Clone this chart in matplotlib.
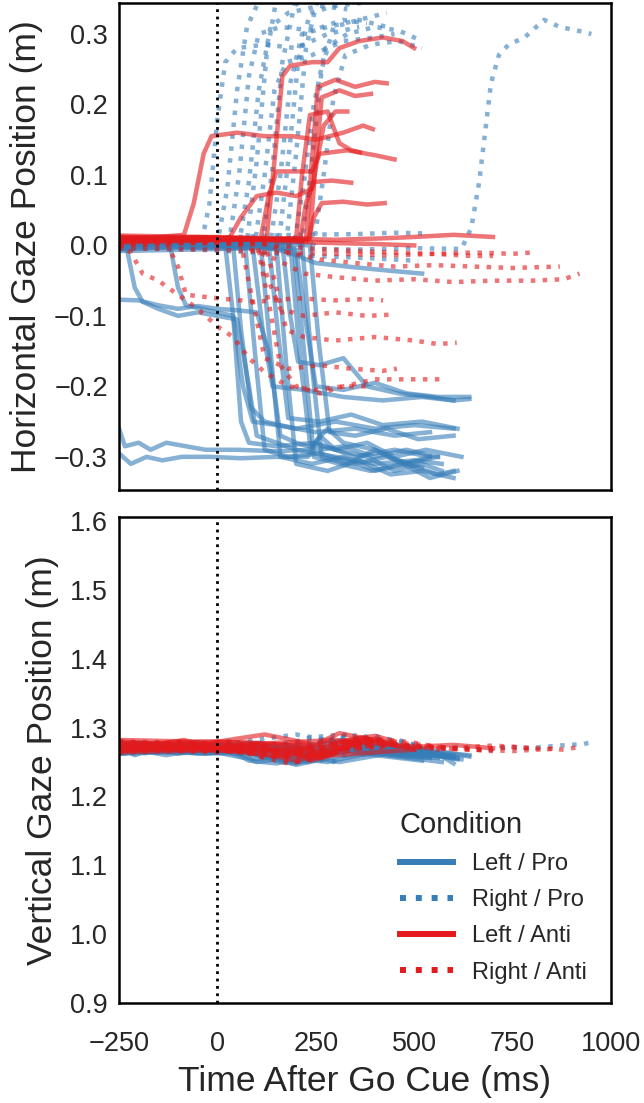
import matplotlib
matplotlib.use("Agg")
import matplotlib.pyplot as plt
from matplotlib.lines import Line2D

plt.rcParams['font.family'] = ['Liberation Sans', 'DejaVu Sans']
plt.rcParams['text.color'] = '.15'
plt.rcParams['axes.labelcolor'] = '.15'
plt.rcParams['xtick.color'] = '.15'
plt.rcParams['ytick.color'] = '.15'

# one list per trace: time after go cue (ms), horizontal gaze (m), vertical gaze (m)

# Left / Pro
lp_t = [
    [-250, -200, -150, -100, -50, 0, 50, 100, 130, 160, 200, 260, 320, 400, 480, 560],
    [-250, -230, -210, -190, -150, -100, -50, 0, 50, 80, 100, 150, 200, 300, 400, 500, 570],
    [-250, -120, -100, -80, -40, 0, 40, 65, 90, 150, 250, 350, 450, 540],
    [-250, -235, -200, -170, -130, -80, -30, 50, 150, 230, 280, 320, 400, 480, 560],
    [-250, -220, -180, -140, -90, -20, 60, 150, 230, 260, 300, 380, 450, 520, 570],
    [-250, -180, -100, -30, 20, 40, 60, 80, 150, 250, 350, 450, 540],
    [-250, -150, -60, 40, 60, 85, 120, 200, 300, 400, 500, 600],
    [-250, -150, -50, 70, 95, 120, 180, 260, 350, 430, 520],
    [-250, -120, 0, 90, 115, 140, 220, 320, 420, 520, 600, 640],
    [-250, -100, 110, 135, 160, 240, 320, 400, 480, 560, 600],
    [-250, -80, 130, 155, 180, 260, 340, 420, 520, 610],
    [-250, -50, 150, 175, 200, 280, 360, 440, 520, 600],
    [-250, 0, 165, 185, 205, 260, 320, 380, 460, 540, 600],
    [-250, 50, 185, 210, 235, 300, 380, 450, 530, 620],
    [-250, 100, 200, 225, 250, 320, 400, 480, 560, 640],
    [-250, 100, 215, 240, 265, 330, 400, 470, 540],
    [-250, 120, 235, 258, 285, 350, 430, 510, 600],
    [-250, -50, 100, 180, 250, 330, 420, 520],
    [-250, 60, 195, 220, 245, 310, 390, 470, 540, 610],
]
lp_h = [
    [-0.077, -0.078, -0.085, -0.09, -0.086, -0.09, -0.092, -0.095, -0.15, -0.27, -0.28, -0.29, -0.285, -0.3, -0.29, -0.3],
    [0.002, -0.005, -0.06, -0.08, -0.09, -0.1, -0.095, -0.1, -0.105, -0.2, -0.27, -0.28, -0.29, -0.3, -0.31, -0.305, -0.31],
    [0.004, 0.0, -0.06, -0.085, -0.09, -0.095, -0.1, -0.2, -0.25, -0.255, -0.265, -0.26, -0.27, -0.265],
    [-0.26, -0.285, -0.28, -0.29, -0.28, -0.285, -0.29, -0.29, -0.292, -0.29, -0.26, -0.28, -0.29, -0.31, -0.3],
    [-0.295, -0.31, -0.3, -0.305, -0.3, -0.3, -0.302, -0.3, -0.3, -0.27, -0.29, -0.3, -0.32, -0.31, -0.32],
    [0.004, 0.0, 0.006, 0.002, 0.0, -0.1, -0.25, -0.28, -0.285, -0.28, -0.3, -0.29, -0.3],
    [-0.004, 0.002, -0.002, 0.0, -0.12, -0.23, -0.25, -0.26, -0.25, -0.26, -0.255, -0.26],
    [0.006, 0.003, 0.008, 0.004, -0.15, -0.29, -0.3, -0.295, -0.31, -0.3, -0.315],
    [-0.006, -0.002, -0.004, -0.003, -0.12, -0.2, -0.205, -0.215, -0.22, -0.215, -0.22, -0.218],
    [0.0, 0.004, 0.002, -0.15, -0.3, -0.31, -0.3, -0.32, -0.31, -0.325, -0.32],
    [0.008, 0.005, 0.004, -0.13, -0.245, -0.25, -0.24, -0.255, -0.25, -0.26],
    [-0.002, 0.0, -0.002, -0.17, -0.31, -0.32, -0.305, -0.325, -0.32, -0.33],
    [0.002, 0.006, 0.002, -0.1, -0.165, -0.17, -0.16, -0.2, -0.21, -0.215, -0.22],
    [0.005, 0.002, 0.003, -0.16, -0.28, -0.29, -0.28, -0.3, -0.29, -0.3],
    [-0.008, -0.004, -0.006, -0.11, -0.2, -0.205, -0.195, -0.21, -0.215, -0.215],
    [0.003, 0.006, 0.004, -0.17, -0.3, -0.31, -0.29, -0.31, -0.3],
    [0.0, 0.003, 0.0, -0.14, -0.265, -0.27, -0.26, -0.275, -0.27],
    [0.004, 0.002, 0.0, -0.01, -0.025, -0.03, -0.035, -0.04],
    [-0.004, -0.002, -0.004, -0.15, -0.3, -0.31, -0.32, -0.31, -0.33, -0.32],
]
lp_v = [
    [1.274, 1.278, 1.272, 1.276, 1.279, 1.273, 1.27, 1.262, 1.255, 1.25, 1.248, 1.258, 1.27, 1.265, 1.262, 1.258],
    [1.262, 1.266, 1.26, 1.264, 1.268, 1.262, 1.266, 1.264, 1.258, 1.255, 1.25, 1.254, 1.246, 1.258, 1.262, 1.255, 1.25],
    [1.276, 1.272, 1.278, 1.274, 1.27, 1.276, 1.268, 1.26, 1.254, 1.258, 1.266, 1.272, 1.262, 1.258],
    [1.266, 1.262, 1.268, 1.264, 1.26, 1.265, 1.262, 1.266, 1.256, 1.25, 1.262, 1.27, 1.264, 1.258, 1.256],
    [1.27, 1.274, 1.268, 1.272, 1.276, 1.27, 1.273, 1.268, 1.262, 1.258, 1.266, 1.274, 1.27, 1.265, 1.262],
    [1.268, 1.264, 1.27, 1.266, 1.27, 1.262, 1.258, 1.252, 1.248, 1.26, 1.268, 1.262, 1.256],
    [1.272, 1.276, 1.27, 1.274, 1.268, 1.262, 1.258, 1.25, 1.262, 1.272, 1.266, 1.26],
    [1.264, 1.268, 1.262, 1.266, 1.26, 1.256, 1.26, 1.27, 1.264, 1.258, 1.252],
    [1.27, 1.274, 1.266, 1.272, 1.266, 1.262, 1.256, 1.266, 1.276, 1.27, 1.262, 1.258],
    [1.276, 1.272, 1.278, 1.272, 1.266, 1.258, 1.268, 1.262, 1.27, 1.262, 1.248],
    [1.268, 1.272, 1.266, 1.262, 1.256, 1.264, 1.272, 1.268, 1.262, 1.256],
    [1.262, 1.266, 1.27, 1.262, 1.255, 1.25, 1.26, 1.268, 1.264, 1.258],
    [1.274, 1.27, 1.266, 1.26, 1.268, 1.276, 1.282, 1.272, 1.266, 1.262, 1.256],
    [1.266, 1.27, 1.264, 1.258, 1.262, 1.272, 1.266, 1.26, 1.262, 1.254],
    [1.27, 1.266, 1.272, 1.264, 1.258, 1.266, 1.276, 1.27, 1.264, 1.26],
    [1.278, 1.274, 1.27, 1.262, 1.258, 1.27, 1.278, 1.272, 1.266],
    [1.264, 1.268, 1.262, 1.258, 1.266, 1.274, 1.268, 1.262, 1.258],
    [1.272, 1.276, 1.27, 1.274, 1.268, 1.278, 1.272, 1.268],
    [1.266, 1.262, 1.268, 1.262, 1.256, 1.25, 1.258, 1.266, 1.26, 1.254],
]

# Right / Pro
rp_t = [
    [-250, -120, -40, -20, 0, 20, 50, 120, 200, 280, 360],
    [-250, -100, 0, 25, 50, 75, 100, 160, 240],
    [-250, -80, 30, 55, 80, 105, 160, 240, 320, 380],
    [-250, -50, 55, 80, 105, 135, 180, 260, 330],
    [-250, 0, 75, 100, 125, 150, 190],
    [-250, 0, 95, 120, 145, 175, 240, 320, 400, 450],
    [-250, 50, 115, 140, 165, 195, 250, 320],
    [-250, 50, 135, 160, 185, 215, 280, 360, 430],
    [-250, 80, 155, 180, 205, 235, 300, 380],
    [-250, 100, 175, 200, 225, 255, 310],
    [-250, 100, 195, 220, 245, 275, 330, 400, 460, 520],
    [-250, 120, 215, 240, 265, 295, 360, 430],
    [-250, 150, 245, 270, 295, 325, 390, 460, 520],
    [-250, -100, 50, 200, 350, 500, 620, 645, 665, 680, 695, 715, 740, 780, 830, 870, 930, 950],
    [-250, -100, 50, 200, 350, 450, 520],
    [-250, -50, 100, 250, 380, 450, 510],
]
rp_h = [
    [0.004, 0.006, 0.005, 0.06, 0.18, 0.26, 0.28, 0.285, 0.28, 0.3, 0.31],
    [-0.002, 0.002, 0.004, 0.08, 0.22, 0.31, 0.34, 0.36, 0.37],
    [0.008, 0.004, 0.006, 0.1, 0.24, 0.3, 0.31, 0.305, 0.32, 0.315],
    [0.0, 0.004, 0.002, 0.09, 0.22, 0.31, 0.33, 0.34, 0.335],
    [0.006, 0.008, 0.006, 0.12, 0.27, 0.35, 0.38],
    [-0.004, 0.0, 0.002, 0.1, 0.22, 0.26, 0.27, 0.29, 0.295, 0.3],
    [0.002, 0.004, 0.004, 0.11, 0.26, 0.34, 0.36, 0.37],
    [0.01, 0.008, 0.006, 0.1, 0.23, 0.3, 0.31, 0.32, 0.31],
    [-0.002, 0.002, 0.0, 0.12, 0.26, 0.33, 0.34, 0.345],
    [0.004, 0.006, 0.004, 0.13, 0.28, 0.35, 0.37],
    [0.0, 0.004, 0.002, 0.09, 0.2, 0.28, 0.3, 0.31, 0.305, 0.29],
    [0.006, 0.004, 0.006, 0.12, 0.25, 0.31, 0.32, 0.33],
    [-0.004, 0.0, 0.002, 0.1, 0.21, 0.27, 0.285, 0.29, 0.28],
    [0.0, 0.004, 0.0, -0.004, -0.006, -0.004, -0.005, 0.025, 0.09, 0.16, 0.23, 0.27, 0.285, 0.295, 0.32, 0.31, 0.303, 0.3],
    [0.006, 0.01, 0.012, 0.015, 0.016, 0.018, 0.017],
    [-0.004, -0.006, -0.01, -0.015, -0.018, -0.02, -0.022],
]
rp_v = [
    [1.274, 1.27, 1.276, 1.272, 1.268, 1.272, 1.278, 1.284, 1.29, 1.282, 1.276],
    [1.266, 1.27, 1.264, 1.268, 1.262, 1.266, 1.272, 1.278, 1.27],
    [1.278, 1.274, 1.28, 1.276, 1.27, 1.266, 1.274, 1.286, 1.29, 1.28],
    [1.268, 1.264, 1.27, 1.266, 1.26, 1.264, 1.274, 1.282, 1.276],
    [1.272, 1.276, 1.27, 1.266, 1.262, 1.27, 1.278],
    [1.262, 1.266, 1.27, 1.266, 1.258, 1.262, 1.276, 1.288, 1.282, 1.274],
    [1.27, 1.274, 1.268, 1.264, 1.258, 1.266, 1.278, 1.284],
    [1.276, 1.272, 1.268, 1.262, 1.256, 1.264, 1.28, 1.29, 1.278],
    [1.266, 1.27, 1.266, 1.26, 1.254, 1.266, 1.282, 1.276],
    [1.272, 1.268, 1.272, 1.264, 1.256, 1.266, 1.28],
    [1.268, 1.272, 1.266, 1.26, 1.254, 1.264, 1.278, 1.288, 1.28, 1.272],
    [1.274, 1.27, 1.266, 1.258, 1.252, 1.262, 1.276, 1.286],
    [1.264, 1.268, 1.264, 1.256, 1.25, 1.26, 1.274, 1.282, 1.272],
    [1.27, 1.266, 1.272, 1.268, 1.274, 1.27, 1.272, 1.27, 1.268, 1.266, 1.268, 1.27, 1.272, 1.27, 1.272, 1.274, 1.276, 1.279],
    [1.276, 1.272, 1.268, 1.274, 1.28, 1.276, 1.272],
    [1.264, 1.268, 1.262, 1.266, 1.272, 1.268, 1.264],
]

# Left / Anti
la_t = [
    [-250, -150, -85, -60, -35, -15, 50, 120, 190, 250, 320, 370, 395],
    [-250, -50, 125, 145, 165, 185, 240, 280, 310, 360, 420, 470, 500],
    [-250, 0, 225, 240, 255, 300, 350, 400, 430],
    [-250, 0, 235, 250, 265, 310, 350, 390],
    [-250, 50, 200, 215, 235, 280, 310, 340, 362],
    [-250, 0, 110, 130, 150, 240, 260, 330, 400, 450],
    [-250, 50, 210, 225, 245, 290, 340],
    [-250, 80, 230, 245, 265, 320, 380, 425],
    [-250, 30, 60, 100, 150, 200, 240, 270, 300, 330],
    [-250, 0, 150, 300, 420, 500, 600, 700],
    [-250, -50, 100, 250, 400, 500],
]
la_h = [
    [0.01, 0.012, 0.015, 0.06, 0.13, 0.155, 0.16, 0.155, 0.155, 0.15, 0.16, 0.17, 0.165],
    [0.008, 0.012, 0.01, 0.12, 0.24, 0.255, 0.26, 0.26, 0.28, 0.29, 0.295, 0.29, 0.28],
    [0.006, 0.01, 0.008, 0.12, 0.225, 0.235, 0.225, 0.232, 0.23],
    [0.012, 0.008, 0.01, 0.12, 0.21, 0.22, 0.212, 0.215],
    [0.004, 0.008, 0.01, 0.1, 0.185, 0.19, 0.145, 0.135, 0.132],
    [0.01, 0.012, 0.01, 0.07, 0.105, 0.105, 0.13, 0.135, 0.128, 0.122],
    [0.006, 0.01, 0.008, 0.06, 0.09, 0.092, 0.089],
    [0.008, 0.01, 0.006, 0.04, 0.06, 0.062, 0.058, 0.06],
    [0.012, 0.01, 0.04, 0.07, 0.075, 0.07, 0.08, 0.17, 0.19, 0.19],
    [0.006, 0.008, 0.01, 0.008, 0.01, 0.012, 0.015, 0.012],
    [0.014, 0.012, 0.008, 0.004, 0.002, 0.0],
]
la_v = [
    [1.28, 1.276, 1.282, 1.278, 1.274, 1.278, 1.284, 1.29, 1.282, 1.274, 1.28, 1.286, 1.28],
    [1.272, 1.276, 1.27, 1.264, 1.258, 1.262, 1.272, 1.284, 1.292, 1.286, 1.278, 1.272, 1.268],
    [1.268, 1.272, 1.268, 1.262, 1.256, 1.264, 1.276, 1.284, 1.278],
    [1.276, 1.28, 1.274, 1.268, 1.262, 1.27, 1.282, 1.276],
    [1.264, 1.268, 1.266, 1.26, 1.252, 1.258, 1.268, 1.276, 1.272],
    [1.274, 1.27, 1.276, 1.27, 1.264, 1.26, 1.268, 1.282, 1.288, 1.28],
    [1.27, 1.266, 1.27, 1.262, 1.256, 1.266, 1.276],
    [1.282, 1.278, 1.272, 1.266, 1.26, 1.272, 1.284, 1.278],
    [1.268, 1.272, 1.268, 1.262, 1.258, 1.252, 1.258, 1.266, 1.274, 1.27],
    [1.276, 1.272, 1.278, 1.282, 1.276, 1.272, 1.275, 1.27],
    [1.266, 1.27, 1.262, 1.258, 1.264, 1.268],
]

# Right / Anti
ra_t = [
    [-250, -100, 50, 150, 250, 350, 450, 550, 650, 750, 800],
    [-250, -50, 100, 180, 260, 350, 450, 550, 650, 750, 870],
    [-250, -100, 50, 150, 220, 300, 400, 500, 600, 700, 800, 880, 920],
    [-250, 0, 120, 150, 175, 220, 300, 400, 500, 560, 608],
    [-250, 0, 100, 130, 160, 200, 260, 320, 400, 480, 566],
    [-250, -220, -190, -150, -100, -50, 0, 40, 80, 120, 180, 250, 320, 380],
    [-250, -130, -100, -80, 0, 100, 200, 300, 380, 421],
    [-250, 0, 60, 90, 120, 180, 260, 340, 420, 456],
    [-250, 50, 100, 130, 160, 220, 300, 380, 450],
    [-250, 0, 150, 300, 450, 550, 650, 700],
]
ra_h = [
    [0.004, 0.006, 0.004, 0.0, -0.005, -0.008, -0.01, -0.012, -0.01, -0.012, -0.01],
    [0.008, 0.01, 0.006, -0.01, -0.02, -0.025, -0.03, -0.028, -0.03, -0.032, -0.03],
    [0.0, 0.004, 0.002, -0.02, -0.04, -0.045, -0.05, -0.048, -0.052, -0.05, -0.05, -0.048, -0.04],
    [0.006, 0.008, 0.004, -0.06, -0.12, -0.13, -0.135, -0.13, -0.135, -0.14, -0.138],
    [0.002, 0.006, 0.004, -0.08, -0.17, -0.2, -0.21, -0.2, -0.19, -0.19, -0.19],
    [0.004, -0.01, -0.04, -0.05, -0.07, -0.09, -0.115, -0.13, -0.16, -0.18, -0.2, -0.205, -0.2, -0.2],
    [0.006, 0.004, -0.03, -0.07, -0.075, -0.08, -0.075, -0.078, -0.076, -0.078],
    [0.0, 0.004, 0.002, -0.08, -0.16, -0.175, -0.17, -0.175, -0.178, -0.175],
    [0.008, 0.006, 0.0, -0.05, -0.09, -0.1, -0.095, -0.1, -0.098],
    [-0.004, -0.006, -0.01, -0.012, -0.014, -0.012, -0.015, -0.015],
]
ra_v = [
    [1.27, 1.274, 1.27, 1.264, 1.27, 1.278, 1.274, 1.27, 1.268, 1.272, 1.27],
    [1.278, 1.274, 1.27, 1.264, 1.26, 1.268, 1.276, 1.272, 1.268, 1.266, 1.27],
    [1.264, 1.268, 1.272, 1.266, 1.26, 1.27, 1.28, 1.276, 1.27, 1.274, 1.27, 1.268, 1.272],
    [1.274, 1.278, 1.272, 1.266, 1.258, 1.264, 1.276, 1.284, 1.278, 1.272, 1.268],
    [1.268, 1.264, 1.27, 1.262, 1.254, 1.25, 1.258, 1.27, 1.28, 1.274, 1.268],
    [1.276, 1.272, 1.278, 1.274, 1.28, 1.276, 1.272, 1.268, 1.262, 1.256, 1.262, 1.272, 1.278, 1.274],
    [1.266, 1.27, 1.266, 1.272, 1.268, 1.262, 1.256, 1.266, 1.274, 1.27],
    [1.272, 1.268, 1.272, 1.264, 1.256, 1.248, 1.256, 1.268, 1.278, 1.272],
    [1.28, 1.276, 1.272, 1.266, 1.26, 1.264, 1.276, 1.284, 1.278],
    [1.27, 1.266, 1.262, 1.268, 1.274, 1.27, 1.268, 1.266],
]

labels = ['Left / Pro', 'Right / Pro', 'Left / Anti', 'Right / Anti']
x_ticks = [-250, 0, 250, 500, 750, 1000]
h_ticks = [-0.3, -0.2, -0.1, 0.0, 0.1, 0.2, 0.3]
v_ticks = [0.9, 1.0, 1.1, 1.2, 1.3, 1.4, 1.5, 1.6]

blue = '#377eb8'
red = '#e41a1c'
conditions = [
    (lp_t, lp_h, lp_v, blue, '-'),
    (rp_t, rp_h, rp_v, blue, ':'),
    (la_t, la_h, la_v, red, '-'),
    (ra_t, ra_h, ra_v, red, ':'),
]

fig = plt.figure(figsize=(6.44, 11.03), dpi=100)
ax1 = fig.add_axes([0.1848, 0.5558, 0.764, 0.4415])
ax2 = fig.add_axes([0.1848, 0.0907, 0.764, 0.4406], sharex=ax1)

for ts, hs, vs, color, ls in conditions:
    for t, h, v in zip(ts, hs, vs):
        ax1.plot(t, h, color=color, ls=ls, lw=3.25, alpha=0.6)
        ax2.plot(t, v, color=color, ls=ls, lw=3.25, alpha=0.6)

for ax in (ax1, ax2):
    ax.axvline(0, color='black', ls=':', lw=2)
    ax.tick_params(length=0, labelsize=19.5)
    ax.tick_params(axis='y', pad=8)
    ax.tick_params(axis='x', pad=20)
    for s in ax.spines.values():
        s.set_color('black')
        s.set_linewidth(1.8)

ax1.set_xlim(-250, 1000)
ax1.set_xticks(x_ticks)
ax1.tick_params(labelbottom=False)
ax1.set_ylim(-0.347, 0.344)
ax1.set_yticks(h_ticks)
ax1.set_ylabel('Horizontal Gaze Position (m)', fontsize=25.5, labelpad=8)

ax2.set_ylim(0.9, 1.606)
ax2.set_yticks(v_ticks)
ax2.set_ylabel('Vertical Gaze Position (m)', fontsize=25.5, labelpad=8)
ax2.set_xlabel('Time After Go Cue (ms)', fontsize=25.5, labelpad=6)

handles = [Line2D([], [], color=c[3], ls=c[4], lw=4.3) for c in conditions]
leg = ax2.legend(handles, labels, title='Condition', loc='lower left', bbox_to_anchor=(0.571, 0.04),
                 frameon=False, fontsize=17, title_fontsize=21, borderpad=0, borderaxespad=0,
                 handlelength=2.25, handletextpad=0.8, labelspacing=0.6, alignment='left')

fig.savefig('out.png', dpi=100)
